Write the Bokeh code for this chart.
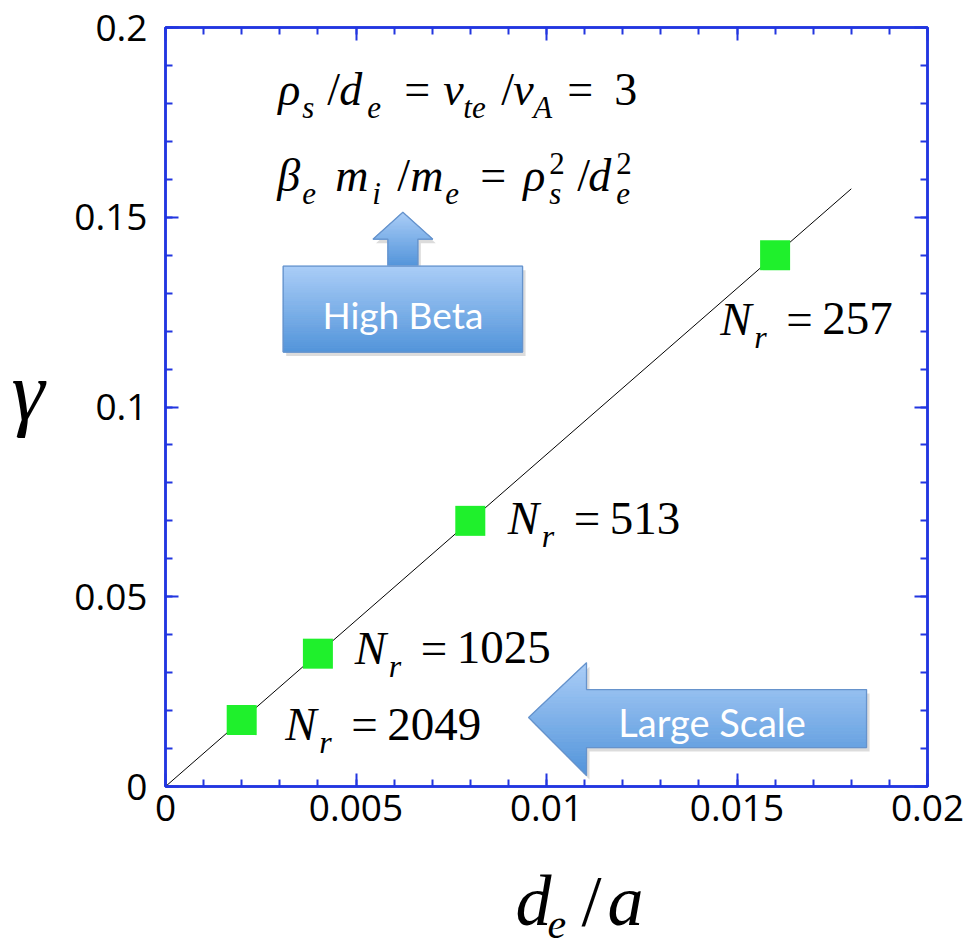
import numpy as np
from bokeh.plotting import figure
from bokeh.models import Range1d, LinearAxis, FixedTicker, Label
from bokeh.layouts import column, row
from bokeh.embed import file_html
from bokeh.resources import INLINE

# ---------------- data ----------------
de_a = [0.002, 0.004, 0.008, 0.016]
gamma = [0.0175, 0.035, 0.07, 0.14]
nr_values = ["2049", "1025", "513", "257"]
fit_x = [0.0, 0.018]
fit_y = [0.0, 0.1575]
x_ticks = [0, 0.005, 0.01, 0.015, 0.02]
x_tick_labels = ["0", "0.005", "0.01", "0.015", "0.02"]
y_ticks = [0, 0.05, 0.1, 0.15, 0.2]
y_tick_labels = ["0", "0.05", "0.1", "0.15", "0.2"]

# label anchors (data coords)
nr_x = [0.00314, 0.00497, 0.00898, 0.01456]
nr_y = [0.0116, 0.0317, 0.0659, 0.1184]

# ---------------- layout ----------------
W, H = 972, 951
LW = 60
BH = 100
MW, MH = W - LW, H - BH
BL, BR, BT, BB = 105, 45, 27, 65
XMAX, YMAX = 0.02, 0.2
PXX = (MW - BL - BR) / XMAX
PXY = (MH - BT - BB) / YMAX
BLUE = "#2236e0"
SERIF = "Liberation Serif"
SANS = "Open Sans"
KB = 0.39   # baseline correction (fraction of font size)

p = figure(width=MW, height=MH, x_range=Range1d(0, XMAX), y_range=Range1d(0, YMAX),
           output_backend="svg", toolbar_location=None,
           x_axis_type=None, y_axis_type=None,
           min_border_left=BL, min_border_right=BR, min_border_top=BT, min_border_bottom=BB)
p.xgrid.visible = False
p.ygrid.visible = False
p.outline_line_color = BLUE
p.outline_line_width = 2.5
p.background_fill_color = "white"
p.border_fill_color = "white"

x_minor = list(np.round(np.arange(0, XMAX + 1e-9, 0.001), 4))
y_minor = list(np.round(np.arange(0, YMAX + 1e-9, 0.01), 3))


def make_axis(ticks, minor, labels, show):
    ax = LinearAxis(ticker=FixedTicker(ticks=ticks, minor_ticks=minor))
    ax.axis_line_color = BLUE
    ax.axis_line_width = 2.5
    ax.major_tick_line_color = BLUE
    ax.minor_tick_line_color = BLUE
    ax.major_tick_line_width = 2
    ax.minor_tick_line_width = 2
    ax.major_tick_in = 13
    ax.major_tick_out = 0
    ax.minor_tick_in = 7
    ax.minor_tick_out = 0
    if show:
        ax.major_label_overrides = {t: l for t, l in zip(ticks, labels)}
        ax.major_label_text_font = SANS
        ax.major_label_text_font_size = "37px"
        ax.major_label_text_color = "black"
    else:
        ax.major_label_overrides = {t: "" for t in ticks}
        ax.major_label_text_font_size = "1px"
        ax.major_label_standoff = 0
    return ax


ax_b = make_axis(x_ticks, x_minor, x_tick_labels, True)
ax_b.major_label_standoff = 8
ax_l = make_axis(y_ticks, y_minor, y_tick_labels, True)
ax_l.major_label_standoff = 18
ax_t = make_axis(x_ticks, x_minor, x_tick_labels, False)
ax_r = make_axis(y_ticks, y_minor, y_tick_labels, False)
p.add_layout(ax_b, "below")
p.add_layout(ax_l, "left")
p.add_layout(ax_t, "above")
p.add_layout(ax_r, "right")


# ---------------- gradient shapes ----------------
def hexmix(c1, c2, t):
    a = [int(c1[i:i + 2], 16) for i in (1, 3, 5)]
    b = [int(c2[i:i + 2], 16) for i in (1, 3, 5)]
    return "#%02x%02x%02x" % tuple(int(round(a[k] + (b[k] - a[k]) * t)) for k in range(3))


def clip_band(xs, ys, ylo, yhi):
    pts = list(zip(xs, ys))

    def clip(pts, inside, yc):
        out = []
        n = len(pts)
        for i in range(n):
            cur, prev = pts[i], pts[i - 1]
            if inside(cur):
                if not inside(prev):
                    t = (yc - prev[1]) / (cur[1] - prev[1])
                    out.append((prev[0] + t * (cur[0] - prev[0]), yc))
                out.append(cur)
            elif inside(prev):
                t = (yc - prev[1]) / (cur[1] - prev[1])
                out.append((prev[0] + t * (cur[0] - prev[0]), yc))
        return out

    pts = clip(pts, lambda q: q[1] >= ylo, ylo)
    if pts:
        pts = clip(pts, lambda q: q[1] <= yhi, yhi)
    return pts


def grad_shape(xs, ys, top="#aacdf7", bot="#5294da", edge="#6693cc", n=40):
    sx = [x + 3 / PXX for x in xs]
    sy = [y - 4 / PXY for y in ys]
    p.patch(sx, sy, fill_color="#808080", fill_alpha=0.28, line_alpha=0)
    ymin, ymax = min(ys), max(ys)
    pxs, pys, cols = [], [], []
    for k in range(n):
        lo = ymin + k * (ymax - ymin) / n
        hi = ymin + (k + 1) * (ymax - ymin) / n
        pts = clip_band(xs, ys, lo, hi)
        if len(pts) < 3:
            continue
        pxs.append([q[0] for q in pts])
        pys.append([q[1] for q in pts])
        cols.append(hexmix(bot, top, (k + 0.5) / n))
    p.patches(pxs, pys, fill_color=cols, line_color=cols, line_width=1)
    p.patch(xs, ys, fill_alpha=0, line_color=edge, line_width=1.3)


box_x = [0.003089, 0.009372, 0.009372, 0.003089]
box_y = [0.13711, 0.13711, 0.11447, 0.11447]
up_x = [0.005838, 0.006623, 0.006623, 0.007016, 0.00623, 0.005445, 0.005838]
up_y = [0.1372, 0.1372, 0.14421, 0.14421, 0.15132, 0.14421, 0.14421]
ls_x = [0.00953, 0.01105, 0.01105, 0.0184, 0.0184, 0.01105, 0.01105]
ls_y = [0.01816, 0.03263, 0.02553, 0.02553, 0.01026, 0.01026, 0.00289]

grad_shape(up_x, up_y)
grad_shape(box_x, box_y)
grad_shape(ls_x, ls_y)

# ---------------- data marks ----------------
p.line(fit_x, fit_y, line_color="black", line_width=1)
p.scatter(de_a, gamma, marker="square", size=30, fill_color="#1ff02c", line_color=None)


# ---------------- texts ----------------
def txt(fig, x, y, s, size, italic=False, font=SERIF, color="black", align="left", baseline="alphabetic"):
    fig.add_layout(Label(x=x, y=y, text=s, text_font=font, text_font_size=f"{size}px",
                         text_font_style="italic" if italic else "normal", text_color=color,
                         text_align=align, text_baseline=baseline))


def seq(fig, x0, y0, pieces, sx=PXX, sy=PXY):
    # dy in pixels, positive = down; baseline corrected by KB*size
    for s, dx, dy, size, it in pieces:
        txt(fig, x0 + dx / sx, y0 - (dy - KB * size) / sy, s, size, it)


for xv, yv, nv in zip(nr_x, nr_y, nr_values):
    seq(p, xv, yv, [("N", 0, 0, 47, True), ("r", 34, 12, 32, True),
                    ("=", 66, 0, 47, False), (nv, 102, 0, 47, False)])

F, S, D = 46, 31, 12
seq(p, 0.00296, 0.1790, [("ρ", 0, 0, F, True), ("s", 24, D, S, True), ("/", 49, 0, F, False),
                         ("d", 61, 0, F, True), ("e", 89, D, S, True), ("=", 126, 0, F, False),
                         ("v", 165, 0, F, True), ("te", 185, D, S, True), ("/", 223, 0, F, False),
                         ("v", 235, 0, F, True), ("A", 255, D, S, True), ("=", 289, 0, F, False),
                         ("3", 336, 0, F, False)])
seq(p, 0.00293, 0.1562, [("β", 0, 0, F, True), ("e", 25, D, S, True), ("m", 58, 0, F, True),
                         ("i", 95, D, S, True), ("/", 120, 0, F, False), ("m", 133, 0, F, True),
                         ("e", 168, D, S, True), ("=", 203, 0, F, False), ("ρ", 246, 0, F, True),
                         ("2", 272, -18, S, False), ("s", 272, D, S, True), ("/", 300, 0, F, False),
                         ("d", 311, 0, F, True), ("2", 339, -18, S, False), ("e", 339, D, S, True)])

txt(p, 0.00623, 0.12447, "High Beta", 37, font="Lato", color="white", align="center", baseline="middle")
txt(p, 0.014346, 0.0171, "Large Scale", 38, font="Lato", color="white", align="center", baseline="middle")


# ---------------- axis-title strips (page pixel coordinates, y from top) ----------------
def strip(w, h, yr):
    f = figure(width=w, height=h, x_range=Range1d(0, w), y_range=Range1d(*yr),
               output_backend="svg", toolbar_location=None, x_axis_type=None, y_axis_type=None,
               min_border=0)
    f.xgrid.visible = False
    f.ygrid.visible = False
    f.outline_line_color = None
    f.background_fill_color = "white"
    f.border_fill_color = "white"
    return f


# the left strip's frame is aligned with the main frame (page y 27..786)
left = strip(LW, MH, (MH - BB, BT))
seq(left, 11, 424, [("γ", 0, 0, 84, True)], sx=1, sy=-1)

bottom = strip(W, BH, (H, MH))
seq(bottom, 515, 929, [("d", 0, 0, 72, True), ("e", 32, 11, 42, True),
                       ("/", 66, 0, 72, False), ("a", 92, 0, 72, True)], sx=1, sy=-1)

layout = column(row(left, p, spacing=0), bottom, spacing=0)
open("out.html", "w").write(file_html(layout, INLINE))
